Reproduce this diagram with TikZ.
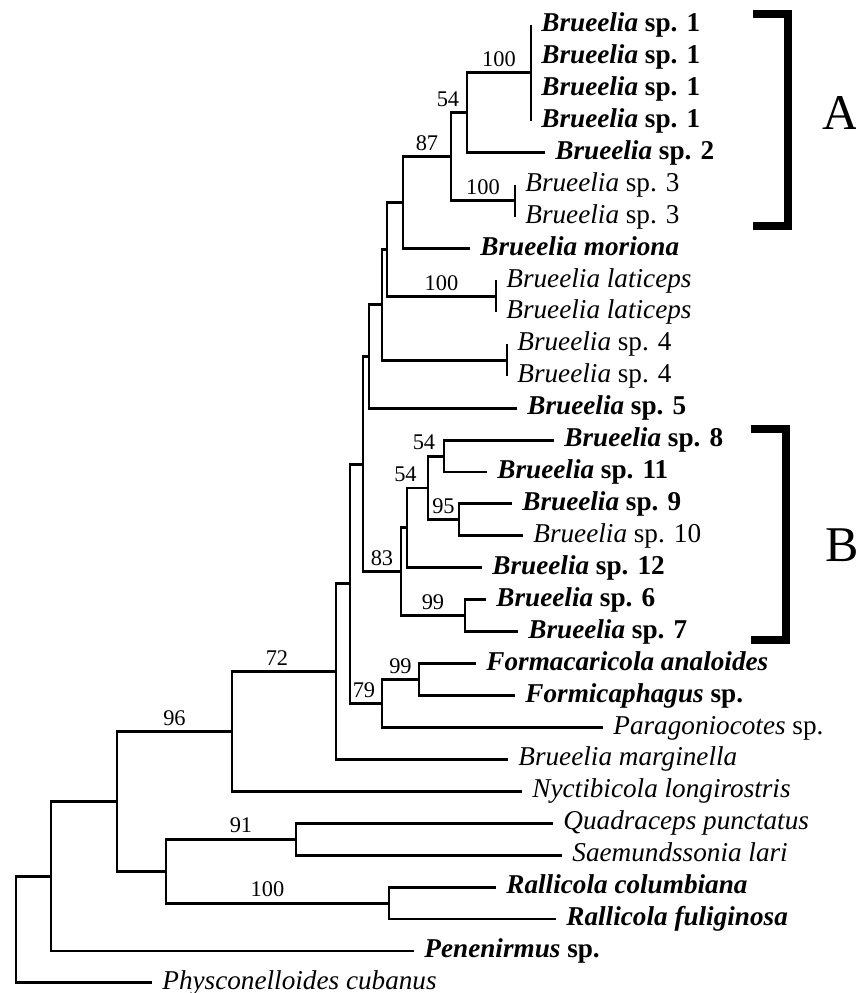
\documentclass[tikz,border=0pt]{standalone}
\usepackage{fontspec}
\setmainfont{Liberation Serif}
\usepackage{tikz}

\begin{document}
\begin{tikzpicture}[x=0.5pt, y=-15.965pt, line width=1.45pt,
  taxon/.style={anchor=west, inner xsep=4.5pt, inner ysep=0pt, text height=9.6pt, text depth=3pt, font=\fontsize{13.6pt}{16pt}\selectfont},
  boot/.style={above, inner sep=2.3pt, font=\fontsize{11.2pt}{13pt}\selectfont},
  clade/.style={anchor=west, inner sep=0pt, font=\fontsize{25pt}{30pt}\selectfont},
  bracket/.style={line width=4pt, line join=miter}]
  \useasboundingbox (0,0.217) rectangle (856,31.317);

  % terminal taxa
  \node[taxon] (t1) at (531,1) {\textbf{\textit{Brueelia} sp. 1}};
  \node[taxon] (t2) at (531,2) {\textbf{\textit{Brueelia} sp. 1}};
  \node[taxon] (t3) at (531,3) {\textbf{\textit{Brueelia} sp. 1}};
  \node[taxon] (t4) at (531,4) {\textbf{\textit{Brueelia} sp. 1}};
  \node[taxon] (t5) at (545,5) {\textbf{\textit{Brueelia} sp. 2}};
  \node[taxon] (t6) at (515,6) {\textit{Brueelia} sp. 3};
  \node[taxon] (t7) at (515,7) {\textit{Brueelia} sp. 3};
  \node[taxon] (t8) at (470,8) {\textbf{\textit{Brueelia moriona}}};
  \node[taxon] (t9) at (496,9) {\textit{Brueelia laticeps}};
  \node[taxon] (t10) at (496,10) {\textit{Brueelia laticeps}};
  \node[taxon] (t11) at (507,11) {\textit{Brueelia} sp. 4};
  \node[taxon] (t12) at (507,12) {\textit{Brueelia} sp. 4};
  \node[taxon] (t13) at (517,13) {\textbf{\textit{Brueelia} sp. 5}};
  \node[taxon] (t14) at (554,14) {\textbf{\textit{Brueelia} sp. 8}};
  \node[taxon] (t15) at (487,15) {\textbf{\textit{Brueelia} sp. 11}};
  \node[taxon] (t16) at (512,16) {\textbf{\textit{Brueelia} sp. 9}};
  \node[taxon] (t17) at (523,17) {\textit{Brueelia} sp. 10};
  \node[taxon] (t18) at (482,18) {\textbf{\textit{Brueelia} sp. 12}};
  \node[taxon] (t19) at (486,19) {\textbf{\textit{Brueelia} sp. 6}};
  \node[taxon] (t20) at (518,20) {\textbf{\textit{Brueelia} sp. 7}};
  \node[taxon] (t21) at (476,21) {\textbf{\textit{Formacaricola analoides}}};
  \node[taxon] (t22) at (515,22) {\textbf{\textit{Formicaphagus} sp.}};
  \node[taxon] (t23) at (603,23) {\textit{Paragoniocotes} sp.};
  \node[taxon] (t24) at (508,24) {\textit{Brueelia marginella}};
  \node[taxon] (t25) at (522,25) {\textit{Nyctibicola longirostris}};
  \node[taxon] (t26) at (553,26) {\textit{Quadraceps punctatus}};
  \node[taxon] (t27) at (562,27) {\textit{Saemundssonia lari}};
  \node[taxon] (t28) at (496,28) {\textbf{\textit{Rallicola columbiana}}};
  \node[taxon] (t29) at (556,29) {\textbf{\textit{Rallicola fuliginosa}}};
  \node[taxon] (t30) at (414,30) {\textbf{\textit{Penenirmus} sp.}};
  \node[taxon] (t31) at (152,31) {\textit{Physconelloides cubanus}};

  % internal nodes
  \coordinate (c1) at (531,2.5);
  \coordinate (c12) at (467,3.75);
  \coordinate (c3) at (515,6.5);
  \coordinate (cA) at (451,5.125);
  \coordinate (cAm) at (403,6.5625);
  \coordinate (cLat) at (496,9.5);
  \coordinate (cAml) at (387,8.03125);
  \coordinate (c4) at (507,11.5);
  \coordinate (cAml4) at (382,9.7656);
  \coordinate (cAml45) at (369,11.3828);
  \coordinate (c811) at (444,14.5);
  \coordinate (c910) at (459,16.5);
  \coordinate (c811910) at (428,15.5);
  \coordinate (c12b) at (407,16.75);
  \coordinate (c67) at (465,19.5);
  \coordinate (cB) at (401,18.125);
  \coordinate (cAB) at (363,14.7539);
  \coordinate (cForm) at (419,21.5);
  \coordinate (cPar) at (382,22.25);
  \coordinate (cBru) at (350,18.502);
  \coordinate (cMarg) at (336,21.251);
  \coordinate (cNyct) at (232,23.1255);
  \coordinate (cQS) at (296,26.5);
  \coordinate (cRal) at (389,28.5);
  \coordinate (cQSR) at (166,27.5);
  \coordinate (cIn) at (117,25.3128);
  \coordinate (cPen) at (51,27.6564);
  \coordinate (root) at (16,29.3282);

  % collapsed clades
  \draw (t1.west) -- (t4.west);
  \draw (t6.west) -- (t7.west);
  \draw (t9.west) -- (t10.west);
  \draw (t11.west) -- (t12.west);

  % branches
  \draw (c12) |- (c1) node[boot, pos=.75] {100};
  \draw (c12) |- (t5);
  \draw (cA) |- (c12) node[boot, pos=.75, xshift=-5.5pt] {54};
  \draw (cA) |- (c3) node[boot, pos=.75] {100};
  \draw (cAm) |- (cA) node[boot, pos=.75] {87};
  \draw (cAm) |- (t8);
  \draw (cAml) |- (cAm);
  \draw (cAml) |- (cLat) node[boot, pos=.75] {100};
  \draw (cAml4) |- (cAml);
  \draw (cAml4) |- (c4);
  \draw (cAml45) |- (cAml4);
  \draw (cAml45) |- (t13);
  \draw (c811) |- (t14);
  \draw (c811) |- (t15);
  \draw (c910) |- (t16);
  \draw (c910) |- (t17);
  \draw (c811910) |- (c811) node[boot, pos=.75, xshift=-6pt] {54};
  \draw (c811910) |- (c910) node[boot, pos=.75] {95};
  \draw (c12b) |- (c811910) node[boot, pos=.75, xshift=-6pt] {54};
  \draw (c12b) |- (t18);
  \draw (c67) |- (t19);
  \draw (c67) |- (t20);
  \draw (cB) |- (c12b);
  \draw (cB) |- (c67) node[boot, pos=.75] {99};
  \draw (cAB) |- (cAml45);
  \draw (cAB) |- (cB) node[boot, pos=.75] {83};
  \draw (cForm) |- (t21);
  \draw (cForm) |- (t22);
  \draw (cPar) |- (cForm) node[boot, pos=.75] {99};
  \draw (cPar) |- (t23);
  \draw (cBru) |- (cAB);
  \draw (cBru) |- (cPar) node[boot, pos=.75, xshift=-1pt] {79};
  \draw (cMarg) |- (cBru);
  \draw (cMarg) |- (t24);
  \draw (cNyct) |- (cMarg) node[boot, pos=.75, xshift=-3.5pt] {72};
  \draw (cNyct) |- (t25);
  \draw (cQS) |- (t26);
  \draw (cQS) |- (t27);
  \draw (cRal) |- (t28);
  \draw (cRal) |- (t29);
  \draw (cQSR) |- (cQS) node[boot, pos=.75, xshift=5pt] {91};
  \draw (cQSR) |- (cRal) node[boot, pos=.75, xshift=-5pt] {100};
  \draw (cIn) |- (cNyct) node[boot, pos=.75] {96};
  \draw (cIn) |- (cQSR);
  \draw (cPen) |- (cIn);
  \draw (cPen) |- (t30);
  \draw (root) |- (cPen);
  \draw (root) |- (t31);

  % clade brackets
  \coordinate (aTop) at (753,0.655);
  \coordinate (aMid) at (788,3.975);
  \coordinate (aBot) at (753,7.295);
  \draw[bracket] (aTop) -| (aMid) |- (aBot);
  \node[clade] (labA) at (821,3.756) {A};
  \coordinate (bTop) at (751,13.652);
  \coordinate (bMid) at (786.5,16.956);
  \coordinate (bBot) at (751,20.261);
  \draw[bracket] (bTop) -| (bMid) |- (bBot);
  \node[clade] (labB) at (824,17.285) {B};
\end{tikzpicture}
\end{document}
